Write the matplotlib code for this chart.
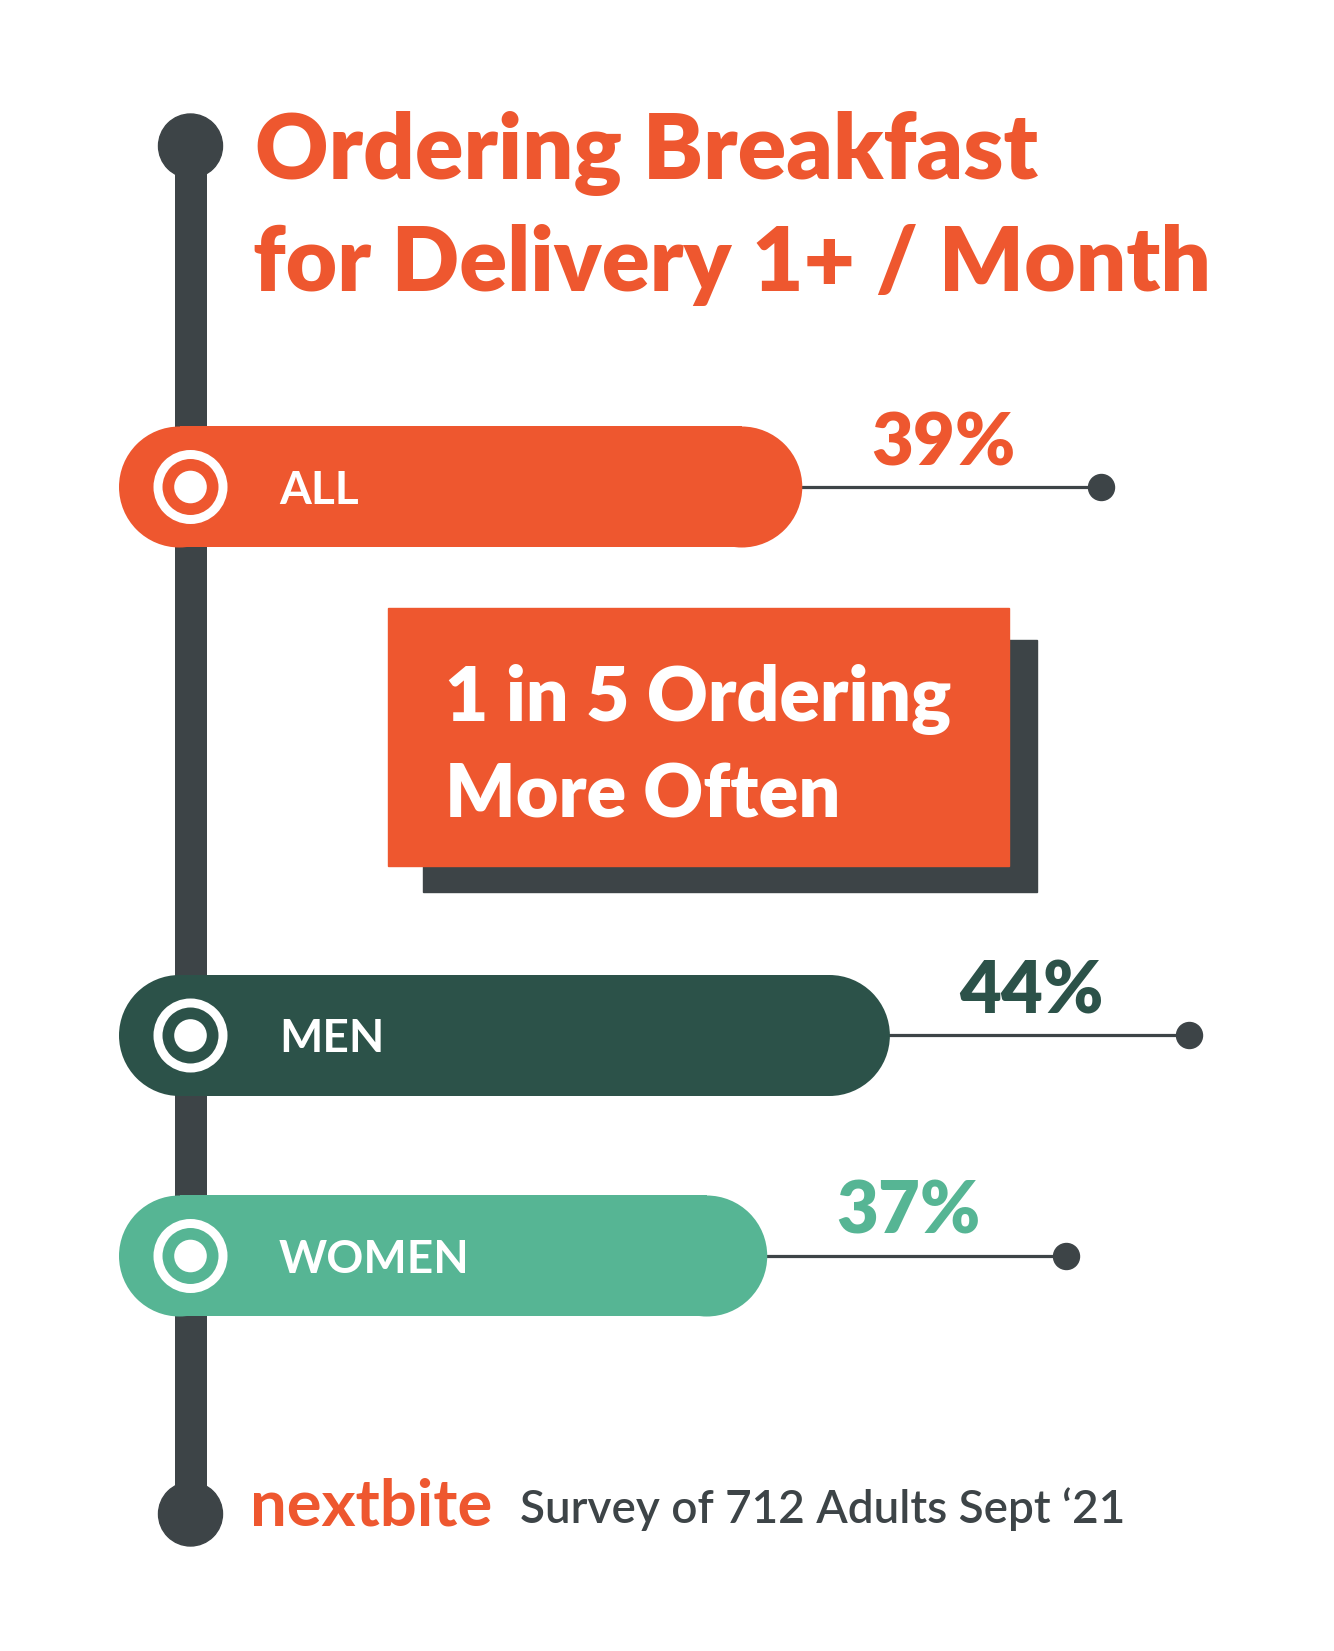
import matplotlib
matplotlib.use("Agg")
import matplotlib.pyplot as plt
from matplotlib.patches import Circle, Ellipse, Rectangle

# data
groups = ["ALL", "MEN", "WOMEN"]
values = [39, 44, 37]
bar_colors = ["#EE572F", "#2C5249", "#56B594"]
title_lines = ["Ordering Breakfast", "for Delivery 1+ / Month"]
callout_lines = ["1 in 5 Ordering", "More Often"]
brand = "nextbite"
source = "Survey of 712 Adults Sept \u201821"

ORANGE = "#EE572F"
DARK = "#3D4447"
FONT = "Lato"

W, H = 1334, 1651
fig = plt.figure(figsize=(W / 100, H / 100), dpi=100)

# background axes in pixel units
ax = fig.add_axes([0, 0, 1, 1])
ax.set_xlim(0, W)
ax.set_ylim(H, 0)
ax.axis("off")

# value axes: x in percent, y in pixels
x0 = 119        # pixel where 0% sits
k = 17.52       # pixels per percent
axv = fig.add_axes([0, 0, 1, 1])
axv.set_xlim(-x0 / k, (W - x0) / k)
axv.set_ylim(H, 0)
axv.axis("off")
axv.patch.set_alpha(0)

# timeline spine
spine_x = 190.5
ax.plot([spine_x, spine_x], [146, 1514], color=DARK, lw=32 * 0.72, solid_capstyle="butt", zorder=1)
ax.add_patch(Circle((spine_x, 146), 32, color=DARK, zorder=2))
ax.add_patch(Circle((spine_x, 1514), 32, color=DARK, zorder=2))

# title
ax.text(255, 179, title_lines[0], fontsize=65, fontweight="heavy", family=FONT,
        color=ORANGE, va="baseline", ha="left")
ax.text(253, 291, title_lines[1], fontsize=64, fontweight="heavy", family=FONT,
        color=ORANGE, va="baseline", ha="left")

# callout box with shadow
ax.add_patch(Rectangle((423, 640), 614, 252, color=DARK, zorder=3))
ax.add_patch(Rectangle((388, 608), 621, 258, color=ORANGE, zorder=4))
ax.text(445, 721, callout_lines[0], fontsize=54, fontweight="heavy", family=FONT,
        color="white", va="baseline", ha="left", zorder=5)
ax.text(445, 817, callout_lines[1], fontsize=53, fontweight="heavy", family=FONT,
        color="white", va="baseline", ha="left", zorder=5)

# footer
ax.text(250, 1525, brand, fontsize=47, fontweight="bold", family=FONT,
        color=ORANGE, va="baseline", ha="left")
ax.text(520, 1523, source, fontsize=33, fontweight="semibold", family=FONT,
        color=DARK, va="baseline", ha="left")

# bars
centers = [487, 1035.5, 1256]
bar_h = 121
r = bar_h / 2
line_len = 299 / k
icon_x = (spine_x - x0) / k
for g, v, c, yc in zip(groups, values, bar_colors, centers):
    # capsule: rectangle with semicircular ends
    axv.add_patch(Rectangle((r / k, yc - r), v - 2 * r / k, bar_h, fc=c, ec="none", zorder=3))
    axv.add_patch(Ellipse((r / k, yc), 2 * r / k, bar_h, fc=c, ec="none", zorder=3))
    axv.add_patch(Ellipse((v - r / k, yc), 2 * r / k, bar_h, fc=c, ec="none", zorder=3))
    axv.plot([v, v + line_len], [yc, yc], color=DARK, lw=3.2 * 0.72, zorder=2)
    axv.plot([v + line_len], [yc], marker="o", ms=26 * 0.72, color=DARK, zorder=3)
    axv.text(v + 69 / k, yc - 22, f"{v}%", fontsize=52, fontweight="heavy", family=FONT,
             color=c, va="baseline", ha="left", zorder=4)
    # target icon
    axv.add_patch(Ellipse((icon_x, yc), 2 * 32.5 / k, 65, fc="none", ec="white",
                          lw=9 * 0.72, zorder=4))
    axv.add_patch(Ellipse((icon_x, yc), 2 * 16.3 / k, 32.6, fc="white", ec="none", zorder=4))
    axv.text(160 / k, yc, g, fontsize=33, fontweight="bold", family=FONT,
             color="white", va="center_baseline", ha="left", zorder=4)

fig.savefig("out.png", dpi=100, facecolor="white")
